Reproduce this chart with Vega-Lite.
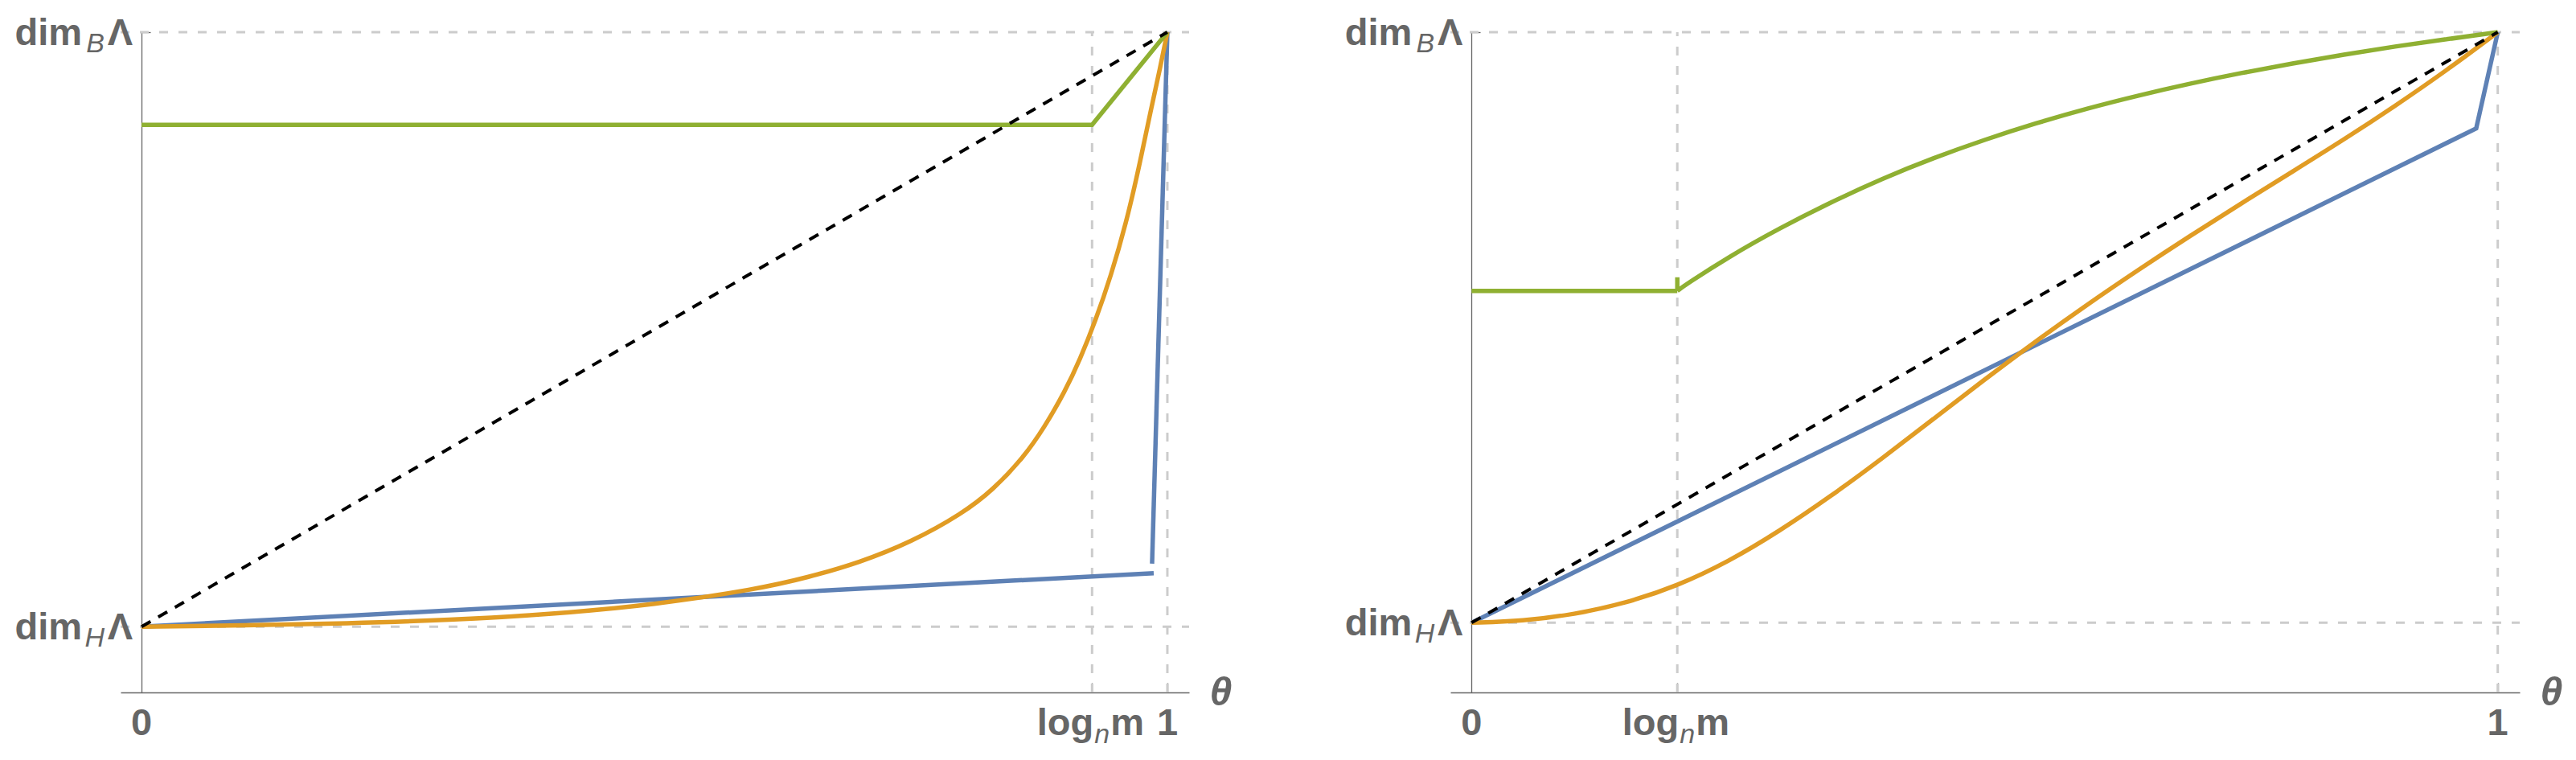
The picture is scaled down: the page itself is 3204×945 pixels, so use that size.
{
  "$schema": "https://vega.github.io/schema/vega-lite/v6.json",
  "background": "white",
  "padding": {"left": 18, "top": 18, "right": 0, "bottom": 0},
  "bounds": "flush",
  "spacing": 325,
  "config": {"view": {"stroke": null}, "font": "Liberation Sans"},
  "hconcat": [
    {
      "width": 1329,
      "height": 821,
      "encoding": {
        "x": {"field": "x", "type": "quantitative", "scale": {"domain": [-0.0204, 1.0212], "nice": false, "zero": false},
          "axis": {"values": [0.9266, 1], "grid": false, "labels": false, "domainColor": "#666666", "domainWidth": 1.3, "tickColor": "#666666", "tickWidth": 1.3, "tickSize": -12,
            "title": "θ", "titleFont": "Liberation Sans", "titleFontSize": 50, "titleFontWeight": "bold", "titleFontStyle": "italic", "titleColor": "#666666", "titleX": 1368, "titleY": 0, "titleAlign": "center", "titleBaseline": "middle"}},
        "y": {"field": "y", "type": "quantitative", "scale": {"domain": [-0.1106, 1], "nice": false, "zero": false},
          "axis": {"values": [0, 1], "grid": false, "labels": false, "offset": -26, "domainColor": "#666666", "domainWidth": 1.3, "tickColor": "#666666", "tickWidth": 1.3, "tickSize": -11, "title": null}}
      },
      "layer": [
        {"data": {"values": [{"x": 0.9266, "y": -0.1106, "y2": 1}, {"x": 1, "y": -0.1106, "y2": 1}]},
          "mark": {"type": "rule", "color": "#cccccc", "strokeWidth": 3, "strokeDash": [11, 13]},
          "encoding": {"y2": {"field": "y2"}}},
        {"data": {"values": [{"x": -0.0204, "x2": 1.0212, "y": 0}, {"x": -0.0204, "x2": 1.0212, "y": 1}]},
          "mark": {"type": "rule", "color": "#cccccc", "strokeWidth": 3, "strokeDash": [11, 13]},
          "encoding": {"x2": {"field": "x2"}}},
        {"data": {"values": [
          {"g": "b1", "x": 0, "y": 0},
          {"g": "b1", "x": 0.9867, "y": 0.090},
          {"g": "b2", "x": 0.9851, "y": 0.106},
          {"g": "b2", "x": 1, "y": 1}
        ]},
          "mark": {"type": "line", "strokeWidth": 5.5, "color": "#5E81B5"},
          "encoding": {"detail": {"field": "g"}}},
        {"data": {"values": [
          {"x": 0, "y": 0},
          {"x": 0.1, "y": 0.002},
          {"x": 0.2, "y": 0.0055},
          {"x": 0.3, "y": 0.011},
          {"x": 0.4, "y": 0.021},
          {"x": 0.5, "y": 0.037},
          {"x": 0.6, "y": 0.063},
          {"x": 0.65, "y": 0.083},
          {"x": 0.7, "y": 0.108},
          {"x": 0.75, "y": 0.142},
          {"x": 0.8, "y": 0.19},
          {"x": 0.83, "y": 0.23},
          {"x": 0.86, "y": 0.285},
          {"x": 0.88, "y": 0.335},
          {"x": 0.9, "y": 0.395},
          {"x": 0.915, "y": 0.45},
          {"x": 0.93, "y": 0.515},
          {"x": 0.945, "y": 0.59},
          {"x": 0.96, "y": 0.68},
          {"x": 0.972, "y": 0.77},
          {"x": 0.984, "y": 0.87},
          {"x": 0.993, "y": 0.94},
          {"x": 1, "y": 1}
        ]},
          "mark": {"type": "line", "strokeWidth": 5.5, "color": "#E19C24", "interpolate": "basis"},
          "encoding": {}},
        {"data": {"values": [
          {"x": 0, "y": 0.844},
          {"x": 0.9266, "y": 0.844},
          {"x": 1, "y": 1}
        ]},
          "mark": {"type": "line", "strokeWidth": 5.5, "color": "#8FB032"},
          "encoding": {}},
        {"data": {"values": [{"x": 0, "y": 0}, {"x": 1, "y": 1}]},
          "mark": {"type": "line", "color": "black", "strokeWidth": 4, "strokeDash": [13, 11]},
          "encoding": {}},
        {"data": {"values": [{"x": 0, "y": 0, "m": "dim", "s": "H", "g": "Λ"}, {"x": 0, "y": 1, "m": "dim", "s": "B", "g": "Λ"}]},
          "layer": [
            {"mark": {"type": "text", "align": "right", "baseline": "alphabetic", "dx": -74, "dy": 16, "fontSize": 47, "fontWeight": "bold", "color": "#666666"}, "encoding": {"text": {"field": "m"}}},
            {"mark": {"type": "text", "align": "right", "baseline": "alphabetic", "dx": -46, "dy": 25, "fontSize": 34, "fontStyle": "italic", "color": "#666666"}, "encoding": {"text": {"field": "s"}}},
            {"mark": {"type": "text", "align": "right", "baseline": "alphabetic", "dx": -11, "dy": 16, "fontSize": 47, "fontWeight": "bold", "color": "#666666"}, "encoding": {"text": {"field": "g"}}}
          ]},
        {"data": {"values": [{"x": 0, "y": -0.1106, "t": "0"}, {"x": 1, "y": -0.1106, "t": "1"}]},
          "mark": {"type": "text", "align": "center", "baseline": "alphabetic", "dy": 53, "fontSize": 47, "fontWeight": "bold", "color": "#666666"},
          "encoding": {"text": {"field": "t"}}},
        {"data": {"values": [{"x": 0.9266, "y": -0.1106, "a": "log", "n": "n", "b": "m"}]},
          "layer": [
            {"mark": {"type": "text", "align": "right", "baseline": "alphabetic", "dx": 2, "dy": 53, "fontSize": 47, "fontWeight": "bold", "color": "#666666"}, "encoding": {"text": {"field": "a"}}},
            {"mark": {"type": "text", "align": "left", "baseline": "alphabetic", "dx": 3, "dy": 63, "fontSize": 34, "fontStyle": "italic", "color": "#666666"}, "encoding": {"text": {"field": "n"}}},
            {"mark": {"type": "text", "align": "left", "baseline": "alphabetic", "dx": 23, "dy": 53, "fontSize": 47, "fontWeight": "bold", "color": "#666666"}, "encoding": {"text": {"field": "b"}}}
          ]}
      ]
    },
    {
      "width": 1330,
      "height": 821,
      "encoding": {
        "x": {"field": "x", "type": "quantitative", "scale": {"domain": [-0.0206, 1.0214], "nice": false, "zero": false},
          "axis": {"values": [0.2005, 1], "grid": false, "labels": false, "domainColor": "#666666", "domainWidth": 1.3, "tickColor": "#666666", "tickWidth": 1.3, "tickSize": -12,
            "title": "θ", "titleFont": "Liberation Sans", "titleFontSize": 50, "titleFontWeight": "bold", "titleFontStyle": "italic", "titleColor": "#666666", "titleX": 1369, "titleY": 0, "titleAlign": "center", "titleBaseline": "middle"}},
        "y": {"field": "y", "type": "quantitative", "scale": {"domain": [-0.118, 1], "nice": false, "zero": false},
          "axis": {"values": [0, 1], "grid": false, "labels": false, "offset": -26, "domainColor": "#666666", "domainWidth": 1.3, "tickColor": "#666666", "tickWidth": 1.3, "tickSize": -11, "title": null}}
      },
      "layer": [
        {"data": {"values": [{"x": 0.2005, "y": -0.118, "y2": 1}, {"x": 1, "y": -0.118, "y2": 1}]},
          "mark": {"type": "rule", "color": "#cccccc", "strokeWidth": 3, "strokeDash": [11, 13]},
          "encoding": {"y2": {"field": "y2"}}},
        {"data": {"values": [{"x": -0.0206, "x2": 1.0214, "y": 0}, {"x": -0.0206, "x2": 1.0214, "y": 1}]},
          "mark": {"type": "rule", "color": "#cccccc", "strokeWidth": 3, "strokeDash": [11, 13]},
          "encoding": {"x2": {"field": "x2"}}},
        {"data": {"values": [
          {"x": 0, "y": 0},
          {"x": 0.979, "y": 0.837},
          {"x": 1, "y": 1}
        ]},
          "mark": {"type": "line", "strokeWidth": 5.5, "color": "#5E81B5"},
          "encoding": {}},
        {"data": {"values": [
          {"x": 0, "y": 0},
          {"x": 0.05, "y": 0.003},
          {"x": 0.1, "y": 0.014},
          {"x": 0.15, "y": 0.033},
          {"x": 0.2, "y": 0.062},
          {"x": 0.25, "y": 0.103},
          {"x": 0.3, "y": 0.155},
          {"x": 0.35, "y": 0.214},
          {"x": 0.4, "y": 0.278},
          {"x": 0.45, "y": 0.345},
          {"x": 0.5, "y": 0.412},
          {"x": 0.55, "y": 0.477},
          {"x": 0.6, "y": 0.539},
          {"x": 0.65, "y": 0.598},
          {"x": 0.7, "y": 0.655},
          {"x": 0.75, "y": 0.71},
          {"x": 0.8, "y": 0.764},
          {"x": 0.85, "y": 0.818},
          {"x": 0.9, "y": 0.875},
          {"x": 0.95, "y": 0.935},
          {"x": 1, "y": 1}
        ]},
          "mark": {"type": "line", "strokeWidth": 5.5, "color": "#E19C24", "interpolate": "basis"},
          "encoding": {}},
        {"data": {"values": [
          {"g": "flat", "x": 0, "y": 0.562},
          {"g": "flat", "x": 0.2005, "y": 0.562},
          {"g": "notch", "x": 0.2005, "y": 0.562},
          {"g": "notch", "x": 0.2005, "y": 0.585}
        ]},
          "mark": {"type": "line", "strokeWidth": 5.5, "color": "#8FB032"},
          "encoding": {"detail": {"field": "g"}}},
        {"data": {"values": [
          {"x": 0.2005, "y": 0.562},
          {"x": 0.21, "y": 0.574},
          {"x": 0.25, "y": 0.619},
          {"x": 0.3, "y": 0.668},
          {"x": 0.35, "y": 0.712},
          {"x": 0.4, "y": 0.752},
          {"x": 0.45, "y": 0.787},
          {"x": 0.5, "y": 0.818},
          {"x": 0.55, "y": 0.846},
          {"x": 0.6, "y": 0.871},
          {"x": 0.65, "y": 0.893},
          {"x": 0.7, "y": 0.913},
          {"x": 0.75, "y": 0.931},
          {"x": 0.8, "y": 0.947},
          {"x": 0.85, "y": 0.962},
          {"x": 0.9, "y": 0.976},
          {"x": 0.95, "y": 0.988},
          {"x": 1, "y": 1}
        ]},
          "mark": {"type": "line", "strokeWidth": 5.5, "color": "#8FB032", "interpolate": "basis"},
          "encoding": {}},
        {"data": {"values": [{"x": 0, "y": 0}, {"x": 1, "y": 1}]},
          "mark": {"type": "line", "color": "black", "strokeWidth": 4, "strokeDash": [13, 11]},
          "encoding": {}},
        {"data": {"values": [{"x": 0, "y": 0, "m": "dim", "s": "H", "g": "Λ"}, {"x": 0, "y": 1, "m": "dim", "s": "B", "g": "Λ"}]},
          "layer": [
            {"mark": {"type": "text", "align": "right", "baseline": "alphabetic", "dx": -74, "dy": 16, "fontSize": 47, "fontWeight": "bold", "color": "#666666"}, "encoding": {"text": {"field": "m"}}},
            {"mark": {"type": "text", "align": "right", "baseline": "alphabetic", "dx": -46, "dy": 25, "fontSize": 34, "fontStyle": "italic", "color": "#666666"}, "encoding": {"text": {"field": "s"}}},
            {"mark": {"type": "text", "align": "right", "baseline": "alphabetic", "dx": -11, "dy": 16, "fontSize": 47, "fontWeight": "bold", "color": "#666666"}, "encoding": {"text": {"field": "g"}}}
          ]},
        {"data": {"values": [{"x": 0, "y": -0.118, "t": "0"}, {"x": 1, "y": -0.118, "t": "1"}]},
          "mark": {"type": "text", "align": "center", "baseline": "alphabetic", "dy": 53, "fontSize": 47, "fontWeight": "bold", "color": "#666666"},
          "encoding": {"text": {"field": "t"}}},
        {"data": {"values": [{"x": 0.2005, "y": -0.118, "a": "log", "n": "n", "b": "m"}]},
          "layer": [
            {"mark": {"type": "text", "align": "right", "baseline": "alphabetic", "dx": 2, "dy": 53, "fontSize": 47, "fontWeight": "bold", "color": "#666666"}, "encoding": {"text": {"field": "a"}}},
            {"mark": {"type": "text", "align": "left", "baseline": "alphabetic", "dx": 3, "dy": 63, "fontSize": 34, "fontStyle": "italic", "color": "#666666"}, "encoding": {"text": {"field": "n"}}},
            {"mark": {"type": "text", "align": "left", "baseline": "alphabetic", "dx": 23, "dy": 53, "fontSize": 47, "fontWeight": "bold", "color": "#666666"}, "encoding": {"text": {"field": "b"}}}
          ]}
      ]
    }
  ]
}
